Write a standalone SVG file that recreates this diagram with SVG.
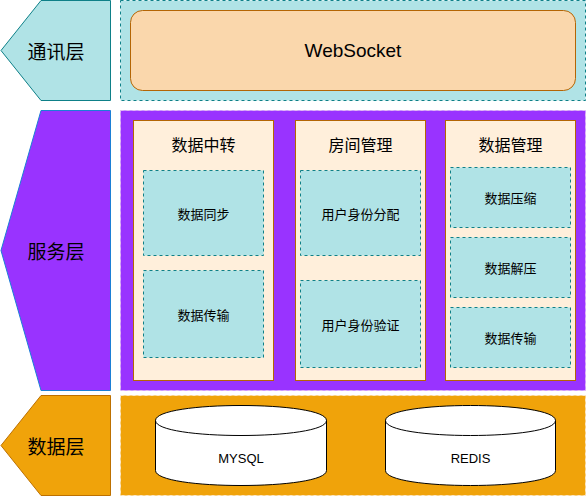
<svg xmlns="http://www.w3.org/2000/svg" width="587" height="496" viewBox="0 0 587 496">
<style>
.cjk{font-family:"Noto Sans CJK SC","Liberation Sans",sans-serif;fill:#000;text-anchor:middle;dominant-baseline:central}
.lat{font-family:"Liberation Sans",Arial,sans-serif;fill:#000;text-anchor:middle;dominant-baseline:central}
.col{fill:#ffefdb;stroke:#b46504;stroke-width:1}
.sub{fill:#b0e3e6;stroke:#0e8088;stroke-width:1;stroke-dasharray:3 3}
.cyl{fill:#fff;stroke:#000;stroke-width:1}
</style>
<g id="layer-comm">
<polygon points="41,0.5 110.5,0.5 110.5,100.5 41,100.5 1,50.5" fill="#b0e3e6" stroke="#0e8088"/>
<text class="cjk" x="56" y="50" font-size="19">通讯层</text>
</g>
<g id="comm-container">
<rect x="120.5" y="0.5" width="465" height="100" fill="#b0e3e6" stroke="#0e8088" stroke-dasharray="3 3"/>
</g>
<g id="websocket">
<rect x="130.5" y="10.5" width="445" height="80" rx="12" fill="#fad7ac" stroke="#b46504"/>
<text class="lat" x="353" y="50" font-size="19">WebSocket</text>
</g>
<g id="layer-service">
<polygon points="41,110.5 110.5,110.5 110.5,390.5 41,390.5 1,250.5" fill="#9933ff" stroke="#1b7fd6"/>
<text class="cjk" x="56" y="250" font-size="19">服务层</text>
</g>
<g id="service-container">
<rect x="120.5" y="110.5" width="465" height="280" fill="#9933ff" stroke="#e0b8f0" stroke-dasharray="3 3"/>
</g>
<g id="col-relay">
<rect class="col" x="133.5" y="120.5" width="140" height="260"/>
<text class="cjk" x="203.5" y="144" font-size="16">数据中转</text>
</g>
<g id="sync">
<rect class="sub" x="143.5" y="170.5" width="120" height="85"/>
<text class="cjk" x="203.5" y="213" font-size="13">数据同步</text>
</g>
<g id="transfer1">
<rect class="sub" x="143.5" y="270.5" width="120" height="87"/>
<text class="cjk" x="203.5" y="314" font-size="13">数据传输</text>
</g>
<g id="col-room">
<rect class="col" x="295.5" y="120.5" width="130" height="260"/>
<text class="cjk" x="360.5" y="144" font-size="16">房间管理</text>
</g>
<g id="assign">
<rect class="sub" x="300.5" y="170.5" width="120" height="85"/>
<text class="cjk" x="360.5" y="213" font-size="13">用户身份分配</text>
</g>
<g id="verify">
<rect class="sub" x="300.5" y="280.5" width="120" height="87"/>
<text class="cjk" x="360.5" y="324" font-size="13">用户身份验证</text>
</g>
<g id="col-data">
<rect class="col" x="445.5" y="120.5" width="130" height="260"/>
<text class="cjk" x="510.5" y="144" font-size="16">数据管理</text>
</g>
<g id="compress">
<rect class="sub" x="450.5" y="167.5" width="120" height="60"/>
<text class="cjk" x="510.5" y="197.5" font-size="13">数据压缩</text>
</g>
<g id="decompress">
<rect class="sub" x="450.5" y="237.5" width="120" height="60"/>
<text class="cjk" x="510.5" y="267.5" font-size="13">数据解压</text>
</g>
<g id="transfer2">
<rect class="sub" x="450.5" y="307.5" width="120" height="60"/>
<text class="cjk" x="510.5" y="337.5" font-size="13">数据传输</text>
</g>
<g id="layer-data">
<polygon points="41,395.5 110.5,395.5 110.5,495.5 41,495.5 1,445.5" fill="#f0a30a" stroke="#bd7000"/>
<text class="cjk" x="56" y="445" font-size="19">数据层</text>
</g>
<g id="data-container">
<rect x="120.5" y="395.5" width="465" height="100" fill="#f0a30a" stroke="#fbe6c8" stroke-dasharray="3 3"/>
</g>
<g id="mysql">
<path class="cyl" d="M155.5,420.5 C155.5,400.5 326.5,400.5 326.5,420.5 L326.5,470.5 C326.5,490.5 155.5,490.5 155.5,470.5 Z"/>
<path fill="none" stroke="#000" d="M155.5,420.5 C155.5,440.5 326.5,440.5 326.5,420.5"/>
<text class="lat" x="241" y="458" font-size="13">MYSQL</text>
</g>
<g id="redis">
<path class="cyl" d="M385.5,420.5 C385.5,400.5 555.5,400.5 555.5,420.5 L555.5,470.5 C555.5,490.5 385.5,490.5 385.5,470.5 Z"/>
<path fill="none" stroke="#000" d="M385.5,420.5 C385.5,440.5 555.5,440.5 555.5,420.5"/>
<text class="lat" x="470.5" y="458" font-size="13">REDIS</text>
</g>
<g id="connectors"></g>
</svg>
